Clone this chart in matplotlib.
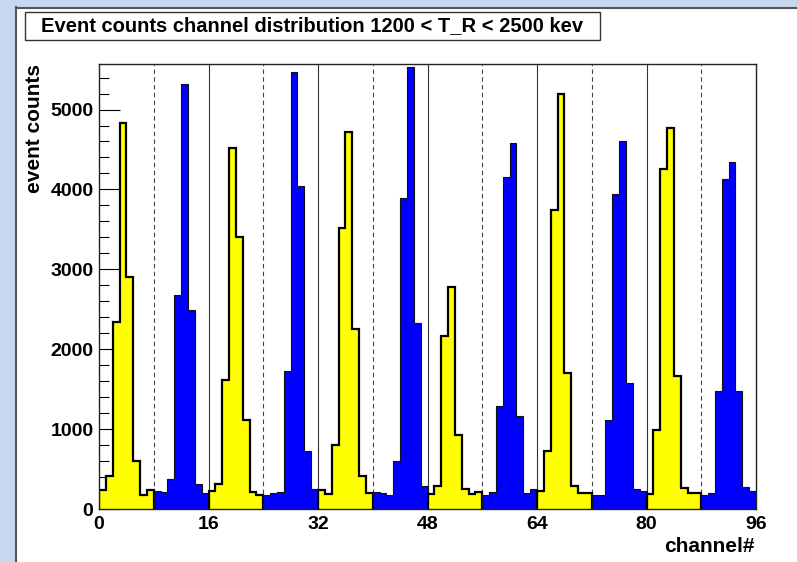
import matplotlib
matplotlib.use("Agg")
import matplotlib.pyplot as plt
from matplotlib.patches import Rectangle
from matplotlib.ticker import MultipleLocator
import numpy as np

plt.rcParams['font.family'] = ['Liberation Sans', 'DejaVu Sans']
plt.rcParams['font.weight'] = 'bold'

# event counts per channel, 8 channels per board
counts = [
    244, 419, 2335, 4827, 2910, 597, 181, 244,
    222, 214, 377, 2681, 5319, 2485, 319, 202,
    230, 310, 1619, 4514, 3410, 1119, 210, 181,
    181, 202, 210, 1723, 5473, 4044, 723, 252,
    244, 194, 806, 3515, 4723, 2252, 410, 202,
    214, 202, 181, 598, 3890, 5527, 2327, 294,
    185, 285, 2160, 2773, 931, 252, 194, 210,
    169, 214, 1294, 4152, 4577, 1160, 202, 252,
    222, 723, 3744, 5194, 1702, 285, 202, 202,
    181, 181, 1119, 3944, 4610, 1577, 252, 231,
    190, 985, 4256, 4773, 1660, 265, 202, 202,
    181, 202, 1473, 4127, 4340, 1481, 277, 222,
]
group_size = 8
solid_lines = [16, 32, 48, 64, 80]
dashed_lines = [8, 24, 40, 56, 72, 88]
x_ticks = [0, 16, 32, 48, 64, 80, 96]

title = "Event counts channel distribution 1200 < T_R < 2500 kev"

W, H = 797, 562
fig = plt.figure(figsize=(W / 100, H / 100), dpi=100)
fig.patch.set_facecolor('#c6d8ef')

# white pad with dark bevel on top/left
px = lambda v: v / W
py = lambda v: 1 - v / H
pad = Rectangle((px(15), 0), 1.0, py(7), transform=fig.transFigure,
                facecolor='white', edgecolor='none', zorder=-5)
fig.patches.append(pad)
fig.add_artist(plt.Line2D([px(15.5), px(15.5)], [0, py(7)], color='#555555', lw=1.5,
                          transform=fig.transFigure, zorder=-4))
fig.add_artist(plt.Line2D([px(15.5), 1], [py(7.5), py(7.5)], color='#555555', lw=1.5,
                          transform=fig.transFigure, zorder=-4))

ax = fig.add_axes([px(99), 1 - 509 / H, (756 - 99) / W, (509 - 64) / H])
ax.set_facecolor('white')

for x in solid_lines:
    ax.axvline(x, color='#333333', lw=0.8, zorder=1)
for x in dashed_lines:
    ax.axvline(x, color='#444444', lw=0.8, ls=(0, (4, 3)), zorder=1)

counts = np.array(counts)
for g in range(len(counts) // group_size):
    lo = g * group_size
    vals = counts[lo:lo + group_size]
    edges = np.arange(lo, lo + group_size + 1)
    if g % 2 == 0:
        ax.stairs(vals, edges, fill=True, color='#ffff00', zorder=2)
        ax.stairs(vals, edges, baseline=0, color='black', lw=1.6, zorder=3)
    else:
        ax.stairs(vals, edges, fill=True, color='#0000ff', zorder=2)
        ax.stairs(vals, edges, baseline=0, color='#111111', lw=0.8, zorder=3)

ax.set_xlim(0, 96)
ax.set_ylim(0, 5570)
ax.set_xticks(x_ticks)
ax.yaxis.set_major_locator(MultipleLocator(1000))
ax.yaxis.set_minor_locator(MultipleLocator(200))
ax.tick_params(axis='y', which='major', direction='in', length=15, width=0.8,
               labelsize=14, pad=4)
ax.tick_params(axis='y', which='minor', direction='in', length=7.5, width=0.8)
ax.tick_params(axis='x', which='both', length=0, labelsize=14, pad=5)
for lab in ax.get_xticklabels() + ax.get_yticklabels():
    lab.set_fontweight('bold')
for s in ax.spines.values():
    s.set_color('#222222')
    s.set_linewidth(1.0)
    s.set_zorder(5)

# title box
fig.patches.append(Rectangle((px(25), py(40)), px(600) - px(25), py(12) - py(40),
                             transform=fig.transFigure, facecolor='white',
                             edgecolor='#333333', lw=1.0, zorder=1))
fig.text(px(312), py(26), title, ha='center', va='center', fontsize=14.5,
         fontweight='bold')

fig.text(px(35), py(64), "event counts", rotation=90, ha='center', va='top',
         fontsize=15, fontweight='bold')
fig.text(px(755), py(547), "channel#", ha='right', va='center',
         fontsize=15, fontweight='bold')

fig.savefig('out.png', dpi=100, facecolor=fig.get_facecolor())
